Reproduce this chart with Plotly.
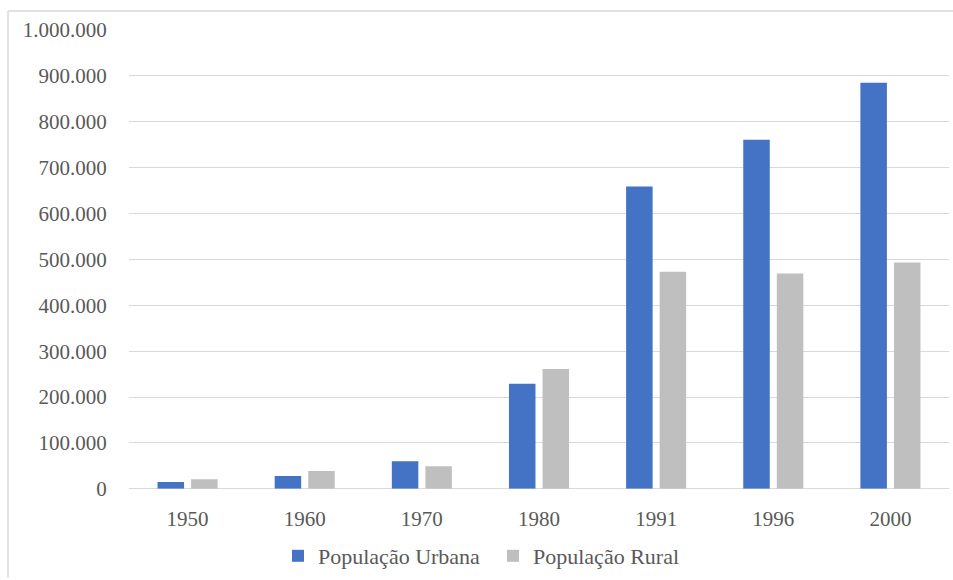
import plotly.graph_objects as go

# Census years and population counts
years = ["1950", "1960", "1970", "1980", "1991", "1996", "2000"]
urbana = [15000, 28000, 60000, 229000, 659000, 761000, 885000]
rural = [21000, 39000, 49000, 261000, 473000, 469000, 493000]

series_names = ["População Urbana", "População Rural"]
y_ticks = [0, 100000, 200000, 300000, 400000, 500000, 600000, 700000, 800000, 900000, 1000000]

W, H = 953, 580
L, R, T, B = 129, 4, 30, 89

text_color = "#595959"
grid_color = "#D9D9D9"
font_family = "'Times New Roman', 'Liberation Serif', serif"

fig = go.Figure()
fig.add_trace(go.Bar(x=years, y=urbana, name=series_names[0], marker=dict(color="#4472C4", line=dict(width=0))))
fig.add_trace(go.Bar(x=years, y=rural, name=series_names[1], marker=dict(color="#BFBFBF", line=dict(width=0))))

# chart frame (top and left edges) in pixel terms converted to paper coordinates
pw = W - L - R
ph = H - T - B
def px_x(p):
    return (p - L) / pw
def px_y(p):
    return (H - B - p) / ph

fig.add_shape(type="line", xref="paper", yref="paper",
              x0=px_x(8), x1=px_x(953), y0=px_y(11), y1=px_y(11),
              line=dict(color=grid_color, width=1.5))
fig.add_shape(type="line", xref="paper", yref="paper",
              x0=px_x(8), x1=px_x(8), y0=px_y(11), y1=px_y(580),
              line=dict(color=grid_color, width=1.5))

fig.update_layout(
    width=W, height=H,
    margin=dict(l=L, r=R, t=T, b=B, pad=0),
    paper_bgcolor="white", plot_bgcolor="white",
    separators=",.",
    barmode="group", bargap=0.427, bargroupgap=0.21,
    font=dict(family=font_family, size=21, color=text_color),
    showlegend=True,
    legend=dict(orientation="h", xref="container", yref="container",
                x=278 / W, y=1 - 556 / H, xanchor="left", yanchor="middle",
                font=dict(family=font_family, size=22, color=text_color),
                bgcolor="rgba(0,0,0,0)", itemwidth=30, tracegroupgap=0,
                entrywidth=170, entrywidthmode="pixels"),
    xaxis=dict(showgrid=False, showline=False, zeroline=False,
               ticks="outside", ticklen=11, tickcolor="rgba(0,0,0,0)",
               tickfont=dict(family=font_family, size=21, color=text_color)),
    yaxis=dict(range=[0, 1000000], tickvals=y_ticks, tickformat=",d",
               showgrid=True, gridcolor=grid_color, gridwidth=1.3,
               zeroline=True, zerolinecolor=grid_color, zerolinewidth=1.3,
               showline=False, ticks="outside", ticklen=17, tickcolor="rgba(0,0,0,0)",
               tickfont=dict(family=font_family, size=21, color=text_color)),
)

fig.write_html("out.html")
